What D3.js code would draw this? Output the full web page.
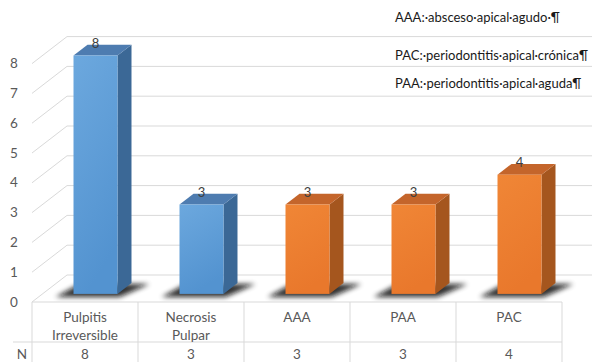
<!DOCTYPE html>
<html><head><meta charset="utf-8">
<script src="https://cdn.jsdelivr.net/npm/d3@7/dist/d3.min.js"></script>
<style>html,body{margin:0;padding:0;background:#fff;}svg{display:block;}</style>
</head><body><svg id="c" width="592" height="362"></svg>
<script>
const categories = [["Pulpitis","Irreversible"],["Necrosis","Pulpar"],["AAA"],["PAA"],["PAC"]];
const values = [8,3,3,3,4];
const nRow = ["8","3","3","3","4"];
const groups = ["pulpar","pulpar","periapical","periapical","periapical"];
const yTicks = [0,1,2,3,4,5,6,7,8];
const notes = ["AAA:·absceso·apical·agudo·¶","PAC:·periodontitis·apical·crónica¶","PAA:·periodontitis·apical·aguda¶"];

const svg = d3.select("#c");
const W=592,H=362;
const x0=32,x1=562, yBase=302;
const DX=35, DY=-27; // full depth offset
const f1=0.3, f2=0.7;
const FONT="Lato, 'Liberation Sans', sans-serif";
const x = d3.scaleBand().domain(d3.range(categories.length)).range([x0,x1]).paddingInner(0).paddingOuter(0);
const y = d3.scaleLinear().domain([0,8]).range([yBase, yBase-238.4]);
const colors = {
  pulpar:{front:["#6ca8de","#5393d0"], side:"#3b6896", top:"#4e7cb0"},
  periapical:{front:["#f08636","#e9782c"], side:"#a5561e", top:"#c4652b"}
};
const defs = svg.append("defs");
Object.entries(colors).forEach(([k,c])=>{
  const g=defs.append("linearGradient").attr("id","g-"+k).attr("x1",0).attr("y1",0).attr("x2",0.3).attr("y2",1);
  g.append("stop").attr("offset","0%").attr("stop-color",c.front[0]);
  g.append("stop").attr("offset","100%").attr("stop-color",c.front[1]);
});
defs.append("filter").attr("id","blur").attr("x","-50%").attr("y","-50%").attr("width","200%").attr("height","200%")
  .append("feGaussianBlur").attr("stdDeviation",2.8);

const grid="#d9d9d9";
yTicks.forEach(v=>{
  svg.append("line").attr("x1",x0+DX).attr("x2",W).attr("y1",y(v)+DY).attr("y2",y(v)+DY).attr("stroke",grid).attr("stroke-width",1);
  svg.append("line").attr("x1",x0).attr("y1",y(v)).attr("x2",x0+DX).attr("y2",y(v)+DY).attr("stroke",grid).attr("stroke-width",1);
});
svg.append("g").selectAll("text").data(yTicks).join("text")
  .attr("x",14).attr("y",d=>y(d)+4.5).attr("text-anchor","middle")
  .attr("font-family",FONT).attr("font-size",13.5).attr("fill","#595959").text(d=>d);

const bw = x.bandwidth()*0.415;
const bars = svg.append("g");
values.forEach((v,i)=>{
  const c=colors[groups[i]];
  const cx = x(i)+x.bandwidth()/2 + DX*f1;
  const xl=cx-bw/2, xr=cx+bw/2;
  const yb=y(0)+DY*f1, yt=y(v)+DY*f1;
  const sdx=DX*(f2-f1), sdy=DY*(f2-f1);
  bars.append("path").attr("d",`M${xl-18},${yb+3} L${xr+2},${yb+3} L${xr+sdx+18},${yb+sdy+1} L${xl+sdx-8},${yb+sdy+1} Z`)
    .attr("fill","#111").attr("opacity",0.85).attr("filter","url(#blur)");
  bars.append("path").attr("d",`M${xr},${yb} L${xr+sdx},${yb+sdy} L${xr+sdx},${yt+sdy} L${xr},${yt} Z`).attr("fill",c.side);
  bars.append("path").attr("d",`M${xl},${yt} L${xr},${yt} L${xr+sdx},${yt+sdy} L${xl+sdx},${yt+sdy} Z`).attr("fill",c.top);
  bars.append("rect").attr("x",xl).attr("y",yt).attr("width",bw).attr("height",yb-yt).attr("fill",`url(#g-${groups[i]})`);
  bars.append("text").attr("x",cx).attr("y",yt-8).attr("text-anchor","middle")
    .attr("font-family",FONT).attr("font-size",13).attr("fill","#404040").text(v);
});

const t = svg.append("g");
t.append("line").attr("x1",x0).attr("x2",x1).attr("y1",yBase).attr("y2",yBase).attr("stroke",grid);
t.append("line").attr("x1",13).attr("x2",x1).attr("y1",342).attr("y2",342).attr("stroke",grid);
d3.range(categories.length+1).forEach(i=>{
  const xx = i<categories.length ? x(i) : x1;
  t.append("line").attr("x1",xx).attr("x2",xx).attr("y1",yBase).attr("y2",H).attr("stroke",grid);
});
categories.forEach((lines,i)=>{
  const cx=x(i)+x.bandwidth()/2;
  lines.forEach((s,j)=>{
    t.append("text").attr("x",cx).attr("y",321.5+j*18).attr("text-anchor","middle")
      .attr("font-family",FONT).attr("font-size",13.5).attr("fill","#595959").text(s);
  });
  t.append("text").attr("x",cx).attr("y",358.5).attr("text-anchor","middle")
    .attr("font-family",FONT).attr("font-size",13.5).attr("fill","#595959").text(nRow[i]);
});
t.append("text").attr("x",22).attr("y",358.5).attr("text-anchor","middle")
  .attr("font-family",FONT).attr("font-size",13.5).attr("fill","#595959").text("N");

const noteY=[21.5,59.5,88];
notes.forEach((s,i)=>{
  svg.append("text").attr("x",395).attr("y",noteY[i]).attr("font-family",FONT)
    .attr("font-size",13).attr("fill","#1a1a1a").text(s);
});
</script></body></html>
